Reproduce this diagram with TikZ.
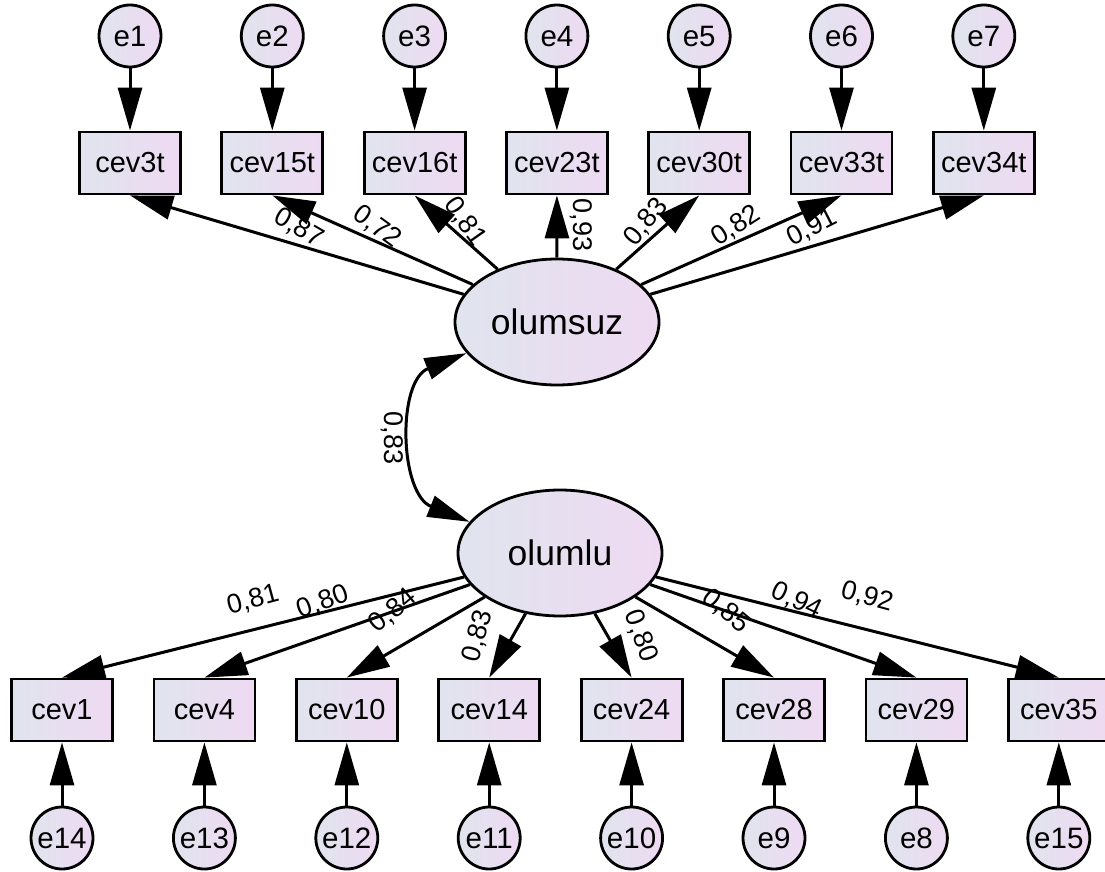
\documentclass[tikz,border=0pt]{standalone}
\usepackage{fontspec}
\setmainfont{Liberation Sans}
\usetikzlibrary{arrows.meta, positioning, shapes.geometric}

\begin{document}
\begin{tikzpicture}[x=1pt, y=-1pt,
  obsbox/.style={draw, line width=2.8pt, left color=fillleft, right color=fillright,
    minimum width=101pt, minimum height=62pt, inner sep=0pt, font=\fontsize{29}{30}\selectfont},
  errcirc/.style={circle, draw, line width=2.8pt, left color=fillleft, right color=fillright,
    minimum size=62pt, inner sep=0pt, font=\fontsize{29.5}{30}\selectfont},
  latent/.style={ellipse, draw, line width=2.8pt, left color=fillleft, right color=fillright,
    minimum width=204pt, minimum height=126pt, inner sep=0pt, font=\fontsize{35.5}{36}\selectfont},
  regpath/.style={line width=3pt, -{Triangle[length=43pt, width=24pt]}},
  covpath/.style={line width=3pt, {Triangle[length=42pt, width=22pt]}-{Triangle[length=42pt, width=22pt]}},
  est/.style={inner sep=0pt, font=\fontsize{27}{28}\selectfont}
]
% Define colors
\definecolor{fillleft}{RGB}{224, 228, 238}
\definecolor{fillright}{RGB}{238, 218, 242}

\useasboundingbox (0,0) rectangle (1105,872);

% Latent variables
\node[latent] (olumsuz) at (557,322) {olumsuz};
\node[latent] (olumlu) at (560,553) {olumlu};

% Top indicators with errors
\foreach \name/\err [count=\i] in {cev3t/e1, cev15t/e2, cev16t/e3, cev23t/e4, cev30t/e5, cev33t/e6, cev34t/e7} {
    \node[obsbox] (\name) at ({130+142.3*(\i-1)},163) {\name};
    \node[errcirc] (\err) at ({130+142.3*(\i-1)},36) {\err};
    \draw[regpath] (\err) -- (\name);
    \draw[regpath] (olumsuz) -- (\name.south);
}

% Bottom indicators with errors
\foreach \name/\err [count=\i] in {cev1/e14, cev4/e13, cev10/e12, cev14/e11, cev24/e10, cev28/e9, cev29/e8, cev35/e15} {
    \node[obsbox] (\name) at ({62+142.4*(\i-1)},710) {\name};
    \node[errcirc] (\err) at ({62+142.4*(\i-1)},838) {\err};
    \draw[regpath] (\err) -- (\name);
    \draw[regpath] (olumlu) -- (\name.north);
}

% Covariance
\draw[covpath] (olumsuz.199) .. controls +(-70,28) and +(-70,-28) .. (olumlu.161);
\node[est, rotate=-90] (r12) at (392,438) {0,83};

% Loadings olumsuz
\node[est, rotate=-30] (l3t) at (299,228) {0,87};
\node[est, rotate=-36] (l15t) at (377,227) {0,72};
\node[est, rotate=-55] (l16t) at (465,222) {0,81};
\node[est, rotate=-90] (l23t) at (581,225) {0,93};
\node[est, rotate=50] (l30t) at (646,222) {0,83};
\node[est, rotate=33] (l33t) at (736,226) {0,82};
\node[est, rotate=27] (l34t) at (812,228) {0,91};

% Loadings olumlu
\node[est, rotate=15] (l1) at (253,600) {0,81};
\node[est, rotate=20] (l4) at (323,602) {0,80};
\node[est, rotate=40] (l10) at (393,611) {0,84};
\node[est, rotate=75] (l14) at (478,636) {0,83};
\node[est, rotate=-70] (l24) at (641,636) {0,80};
\node[est, rotate=-40] (l28) at (726,611) {0,85};
\node[est, rotate=-25] (l29) at (797,601) {0,94};
\node[est, rotate=-15] (l35) at (867,597) {0,92};
\end{tikzpicture}
\end{document}
